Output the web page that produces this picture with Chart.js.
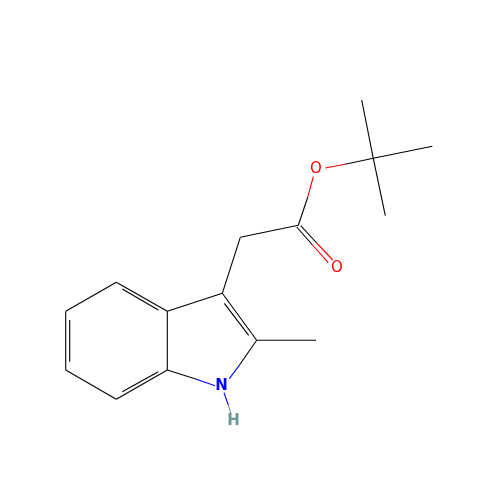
<!DOCTYPE html>
<html>
<head>
<meta charset="utf-8">
<style>
  html, body { margin: 0; padding: 0; background: #fff; }
  canvas { display: block; }
</style>
<script src="https://cdn.jsdelivr.net/npm/chart.js@4/dist/chart.umd.min.js"></script>
</head>
<body>
<canvas id="myChart" width="500" height="500"></canvas>
<script>
// atom labels, positions
const atomLabels = ['O', 'O', 'N', 'H'];
const atomX = [316, 337, 221.5, 233.5];
const atomY = [169, 268.5, 386, 421];
const atomColors = ['#FF0000', '#FF0000', '#0000FF', '#6F9696'];
const atomWeights = ['normal', 'normal', 'bold', 'bold'];

// bond pieces as x1, y1, x2, y2
const blackBonds = [
  [373.3, 158.3, 361.7, 100],
  [373.3, 158.3, 432.3, 146.3],
  [373.3, 158.3, 385.3, 215.7],
  [373.3, 158.3, 345, 164.3],
  [298.3, 225.3, 307.7, 197.3],
  [298.3, 225.3, 240.3, 237.3],
  [240.3, 237.3, 222.3, 293.3],
  [296.7, 227, 312.5, 245],
  [300.7, 225.7, 316.7, 243],
  [222.3, 293.3, 256.7, 340.3],
  [224.3, 303.3, 248.7, 335.3],
  [256.7, 340.3, 316, 340.3],
  [222.3, 293.3, 167.3, 311.3],
  [167.3, 311.3, 167.3, 370],
  [167.3, 311.3, 116.3, 282.3],
  [158.3, 310, 122.3, 289],
  [116.3, 282.3, 65.7, 311.3],
  [65.7, 311.3, 65.7, 370],
  [69.7, 320, 69.7, 361.7],
  [65.7, 370, 116.3, 399.3],
  [116.3, 399.3, 167.3, 370],
  [122.3, 391.7, 158.3, 371.7],
  [167.3, 370, 195.7, 379],
  [256.7, 340.3, 240, 364.3]
];
const redBonds = [
  [325.3, 168, 345, 164.3],
  [313.3, 176.7, 307.7, 197.3],
  [312.5, 245, 328.3, 262.7],
  [316.7, 243, 332.7, 260]
];
const blueBonds = [
  [195.7, 379, 215, 385.7],
  [240, 364.3, 229.3, 378.7],
  [224, 392.7, 228.3, 405]
];
const greyBonds = [
  [228.3, 405, 231, 414]
];

function bondDatasets(bonds, color) {
  return bonds.map(function (b) {
    return {
      data: [{ x: b[0], y: b[1] }, { x: b[2], y: b[3] }],
      borderColor: color,
      borderWidth: 1.1,
      pointRadius: 0,
      showLine: true,
      fill: false,
      tension: 0
    };
  });
}

const atomLabelPlugin = {
  id: 'atomLabels',
  afterDatasetsDraw: function (chart) {
    const ctx = chart.ctx;
    ctx.save();
    ctx.textAlign = 'center';
    ctx.textBaseline = 'middle';
    atomLabels.forEach(function (label, i) {
      ctx.font = atomWeights[i] + ' 15px "DejaVu Sans"';
      ctx.fillStyle = atomColors[i];
      ctx.fillText(label, chart.scales.x.getPixelForValue(atomX[i]), chart.scales.y.getPixelForValue(atomY[i]));
    });
    ctx.restore();
  }
};

const ctx = document.getElementById('myChart').getContext('2d');

const chart = new Chart(ctx, {
  type: 'scatter',
  data: {
    datasets: [].concat(
      bondDatasets(blackBonds, '#000000'),
      bondDatasets(redBonds, '#FF0000'),
      bondDatasets(blueBonds, '#0000FF'),
      bondDatasets(greyBonds, '#6F9696')
    )
  },
  options: {
    responsive: false,
    animation: false,
    devicePixelRatio: 1,
    layout: { padding: 0 },
    plugins: { legend: { display: false }, tooltip: { enabled: false } },
    scales: {
      x: { type: 'linear', min: 0, max: 500, display: false },
      y: { type: 'linear', min: 0, max: 500, reverse: true, display: false }
    }
  },
  plugins: [atomLabelPlugin]
});
</script>
</body>
</html>
